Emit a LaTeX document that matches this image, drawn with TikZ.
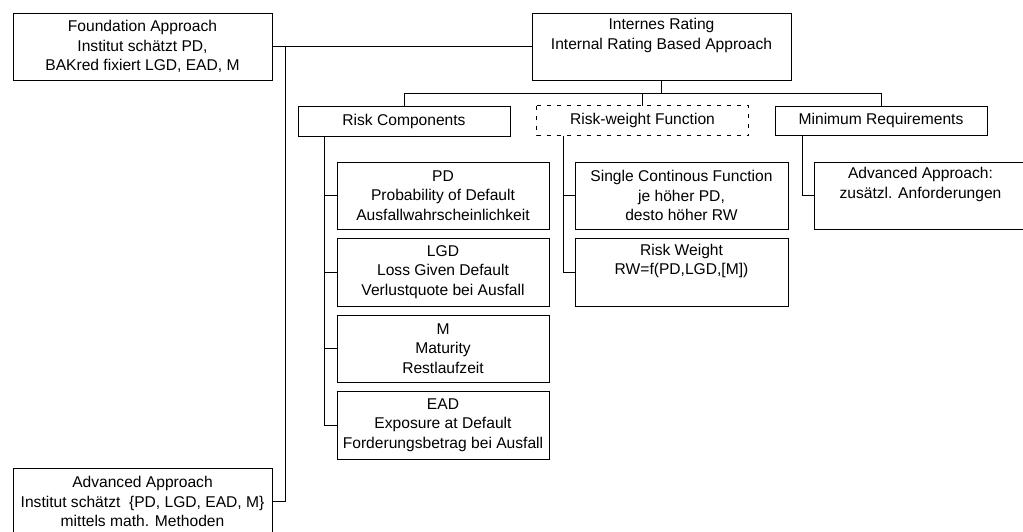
\documentclass[tikz,border=0pt]{standalone}
\usepackage{fontspec}
\setmainfont{Liberation Sans}
\begin{document}
\begin{tikzpicture}[x=1pt,y=-1pt,
  every node/.style={font=\fontsize{15.6}{19.5}\selectfont},
  box/.style={draw=black, line width=1pt, rectangle, align=center, inner sep=0pt, minimum height=67pt},
  widebox/.style={box, minimum width=259pt},
  smallbox/.style={box, minimum width=212pt},
  headbox/.style={box, minimum width=212pt, minimum height=29pt},
  conn/.style={draw=black, line width=1pt}
]
\clip (0,0) rectangle (1023,531);
% top level
\node[widebox] (found) at (142.5,46.5) {Foundation Approach\\Institut schätzt PD,\\BAKred fixiert LGD, EAD, M};
\node[widebox] (ir) at (661.5,46.5) {Internes Rating\\Internal Rating Based Approach\\\strut};
\node[widebox] (adv1) at (142.5,501.5) {Advanced Approach\\Institut schätzt\ \ \{PD, LGD, EAD, M\}\\mittels math. Methoden};
% second level
\node[headbox, minimum height=30pt] (rc) at (404,121) {Risk Components};
\node[headbox, draw=none, minimum width=211pt] (rwf) at (642.5,120.5) {Risk-weight Function};
\draw[line width=1pt, dash pattern=on 4pt off 6pt] (rwf.north west) rectangle (rwf.south east);
\node[headbox] (mr) at (881,120.5) {Minimum Requirements};
% risk components children
\node[smallbox] (pd) at (443,195.5) {PD\\Probability of Default\\Ausfallwahrscheinlichkeit};
\node[smallbox, minimum height=68pt] (lgd) at (443,272) {LGD\\Loss Given Default\\Verlustquote bei Ausfall};
\node[smallbox] (m) at (443,348.5) {M\\Maturity\\Restlaufzeit};
\node[smallbox, minimum height=68pt] (ead) at (443,425) {EAD\\Exposure at Default\\Forderungsbetrag bei Ausfall};
% risk-weight function children
\node[smallbox, minimum width=213pt] (scf) at (681.5,195.5) {Single Continous Function\\je höher PD,\\desto höher RW};
\node[smallbox, minimum width=213pt, minimum height=68pt] (rw) at (681.5,272) {Risk Weight\\RW=f(PD,LGD,[M])\\\strut};
% minimum requirements child
\node[smallbox, minimum width=213pt] (adv2) at (920.5,195.5) {Advanced Approach:\\zusätzl. Anforderungen\\\strut};
% connectors
\coordinate (jf) at (285,46.5);
\coordinate (bus) at (0,93);
\coordinate (sa) at (324,0);
\coordinate (sb) at (563,0);
\coordinate (sc) at (802,0);
\draw[conn] (found.east) -- (ir.west);
\draw[conn] (jf) |- (adv1.east);
\draw[conn] (ir.south) -- (ir.south |- bus);
\draw[conn] (rc.north) -- (rc.north |- bus) -- (mr.north |- bus) -- (mr.north);
\draw[conn] (rwf.north) -- (rwf.north |- bus);
\draw[conn] (rc.south -| sa) |- (ead.west);
\draw[conn] (pd.west -| sa) -- (pd.west);
\draw[conn] (lgd.west -| sa) -- (lgd.west);
\draw[conn] (m.west -| sa) -- (m.west);
\draw[conn] (rwf.south -| sb) |- (rw.west);
\draw[conn] (scf.west -| sb) -- (scf.west);
\draw[conn] (mr.south -| sc) |- (adv2.west);
\end{tikzpicture}
\end{document}
